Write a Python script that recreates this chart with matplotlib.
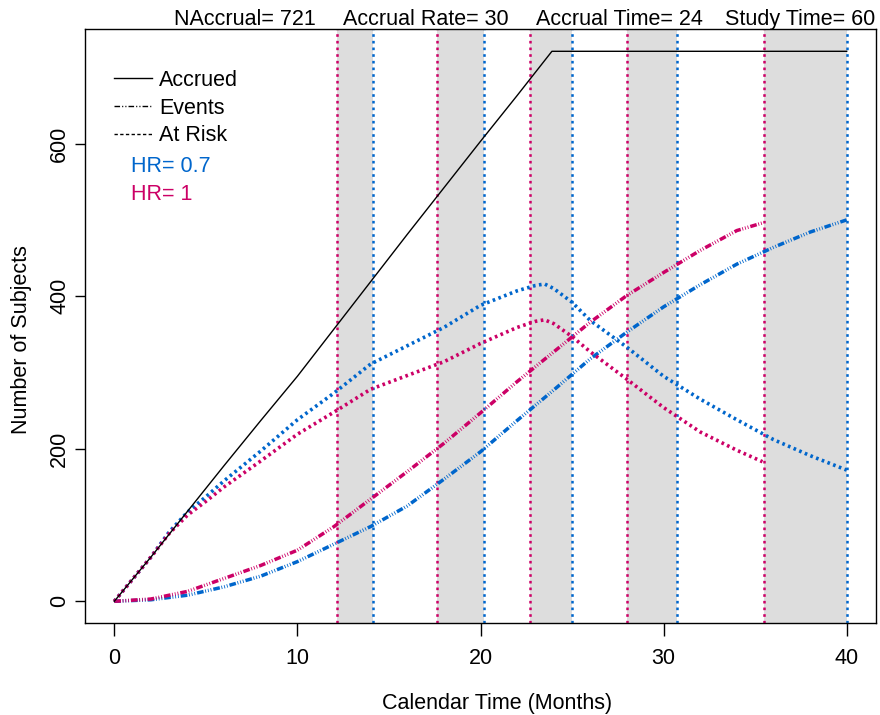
import numpy as np
import matplotlib
matplotlib.use("Agg")
import matplotlib.pyplot as plt
from matplotlib.lines import Line2D

plt.rcParams['font.family'] = ['Liberation Sans', 'DejaVu Sans']
plt.rcParams['lines.scale_dashes'] = False

# values
acc_t = [0, 2, 4, 6, 8, 10, 12, 14, 16, 18, 20, 22, 23.9, 40]
acc_n = [0, 58, 118, 178, 237, 295, 357, 419, 481, 542, 603, 663, 721, 721]

# HR = 0.7 (blue)
ev07_t = [0, 2, 4, 6, 8, 10, 12, 14, 16, 18, 20, 22, 24, 26, 28, 30, 32, 34, 36, 38, 40]
ev07_n = [0, 2, 8, 19, 33, 52, 75, 98, 125, 160, 196, 237, 277, 318, 353, 386, 415, 442, 464, 484, 500]
rk07_t = [0, 1, 2, 3, 4, 5, 6, 8, 10, 12, 14, 16, 18, 20, 22, 23, 23.5, 24, 25, 26, 28, 30, 32, 34, 36, 38, 40]
rk07_n = [0, 29, 58, 91, 117, 137, 158, 197, 238, 273, 311, 335, 359, 388, 407, 414, 416, 410, 392, 368, 333, 295, 265, 238, 212, 191, 172]

# HR = 1 (red)
ev1_t = [0, 2, 4, 6, 8, 10, 12, 14, 16, 18, 20, 22, 24, 26, 28, 30, 32, 34, 35.4]
ev1_n = [0, 3, 13, 30, 47, 67, 98, 134, 170, 207, 247, 288, 327, 366, 401, 431, 460, 486, 496]
rk1_t = [0, 1, 2, 3, 4, 5, 6, 8, 10, 12, 14, 16, 18, 20, 22, 23, 23.5, 24, 25, 26, 28, 30, 32, 34, 35.4]
rk1_n = [0, 29, 58, 89, 113, 131, 150, 184, 219, 248, 278, 296, 314, 338, 359, 367, 369, 364, 347, 327, 291, 254, 222, 198, 183]

# analysis times (red = HR 1, blue = HR 0.7)
times_hr1 = [12.15, 17.62, 22.71, 28.02, 35.46]
times_hr07 = [14.12, 20.19, 25.01, 30.75, 40.0]

n_accrual = 721
header = ["NAccrual= 721", "Accrual Rate= 30", "Accrual Time= 24", "Study Time= 60"]
header_x = [245, 426, 619, 800]

blue = '#0066CC'
red = '#CC0066'
fs = 15.5

fig = plt.figure(figsize=(8.8, 7.15), dpi=100)
W, H = 880, 715
ax = fig.add_axes([85 / W, 1 - 623.3 / H, (876 - 85) / W, (623.3 - 29.3) / H])

for a, b in zip(times_hr1, times_hr07):
    ax.axvspan(a, b, color='#DDDDDD', lw=0, zorder=0)
for a in times_hr1:
    ax.axvline(a, color=red, lw=1.8, linestyle=(0, (1.9, 2.9)), zorder=1)
for b in times_hr07:
    ax.axvline(b, color=blue, lw=1.8, linestyle=(0, (1.9, 2.9)), zorder=1)

ev_style = (0, (4.8, 1.2, 0.6, 1.4, 0.6, 1.4, 0.6, 1.4))
rk_style = (0, (1.9, 2.5))

ax.plot(acc_t, acc_n, color='black', lw=1.0, zorder=4)
ax.plot(ev07_t, ev07_n, color=blue, lw=2.5, linestyle=ev_style, zorder=3)
ax.plot(ev1_t, ev1_n, color=red, lw=2.5, linestyle=ev_style, zorder=3)
ax.plot(rk07_t, rk07_n, color=blue, lw=2.6, linestyle=rk_style, zorder=3)
ax.plot(rk1_t, rk1_n, color=red, lw=2.6, linestyle=rk_style, zorder=3)

ax.set_xlim(-1.6, 41.6)
ax.set_ylim(-0.04 * n_accrual, 1.04 * n_accrual)
ax.set_xticks([0, 10, 20, 30, 40])
ax.set_yticks([0, 200, 400, 600])
ax.tick_params(axis='x', direction='out', length=9, width=1.0, pad=9, labelsize=fs)
ax.tick_params(axis='y', direction='out', length=7.2, width=1.0, pad=3.4, labelsize=fs)
for lab in ax.get_yticklabels():
    lab.set_rotation(90)
    lab.set_va('center')
for sp in ax.spines.values():
    sp.set_linewidth(1.0)

fig.text(497 / W, 1 - 703 / H, "Calendar Time (Months)", ha='center', va='center', fontsize=fs)
fig.text(22 / W, 1 - 340 / H, "Number of Subjects", ha='center', va='center',
         rotation=90, fontsize=fs)

for s, x in zip(header, header_x):
    fig.text(x / W, 1 - 25 / H, s, ha='center', va='baseline', fontsize=fs)

handles = [
    Line2D([], [], color='black', lw=1.0),
    Line2D([], [], color='black', lw=1.0, linestyle=(0, (4, 1.5, 0.8, 1.5, 0.8, 1.5))),
    Line2D([], [], color='black', lw=1.0, linestyle=(0, (2.4, 1.7))),
]
ax.legend(handles, ["Accrued", "Events", "At Risk"], loc='upper left',
          bbox_to_anchor=(114 / W, 1 - 70 / H), bbox_transform=fig.transFigure,
          frameon=False, fontsize=fs, handlelength=1.77, handletextpad=0.34,
          labelspacing=0.31, borderpad=0, borderaxespad=0)
fig.text(130.7 / W, 1 - 171.7 / H, "HR= 0.7", color=blue, fontsize=fs, va='baseline')
fig.text(130.7 / W, 1 - 200.4 / H, "HR= 1", color=red, fontsize=fs, va='baseline')

fig.savefig("out.png", dpi=100)
